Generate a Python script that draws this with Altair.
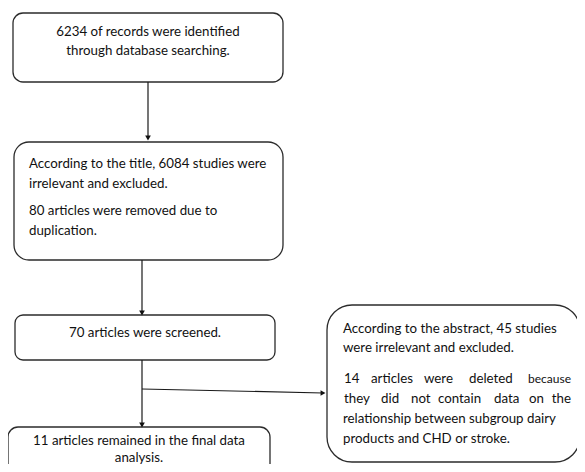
import altair as alt
import pandas as pd

# ---- box geometry (layout coordinates) ----
box_left = [13, 14, 15, 8, 327]
box_right = [283, 283, 275, 270, 580]
box_top = [13, 142, 315, 427, 305]
box_bottom = [82, 260, 360, 500, 462]
box_radius = [10, 15, 8, 10, 25]

# ---- centered text lines ----
center_lines = ["6234 of records were identified", "through database searching.",
                "70 articles were screened.",
                "11 articles remained in the final data", "analysis."]
center_x = [148, 148, 145, 139, 139]
center_y = [32, 51, 333, 441, 458]

# ---- left aligned text lines ----
left_lines = ["According to the title, 6084 studies were", "irrelevant and excluded.",
              "80 articles were removed due to", "duplication.",
              "According to the abstract, 45 studies", "were irrelevant and excluded.",
              "relationship between subgroup dairy", "products and CHD or stroke."]
left_x = [29, 29, 29, 29, 343, 343, 343, 343]
left_y = [164, 184, 211, 231, 329, 348, 419, 439]

# ---- justified lines (word by word) ----
words = ["14", "articles", "were", "deleted",
         "they", "did", "not", "contain", "data", "on"]
word_x = [344, 371, 424, 469, 344, 381, 411, 438, 494, 529]
word_y = [379, 379, 379, 379, 399, 399, 399, 399, 399, 399]
end_words = ["because", "the"]
end_x = [571, 571]
end_y = [379, 399]
end_size = [12, 13.3]

# ---- connectors ----
vline_x = [148, 142, 142]
vline_y1 = [82, 260, 360]
vline_y2 = [138, 313, 425]
branch_x1, branch_y1 = [142], [389]
branch_x2, branch_y2 = [323], [393]

FONT = "Lato"
FS = 13.3

xs = alt.Scale(domain=[8, 577])
ys = alt.Scale(domain=[8, 464], reverse=True)


def X(f):
    return alt.X(f, type="quantitative", scale=xs, axis=None)


def Y(f):
    return alt.Y(f, type="quantitative", scale=ys, axis=None)


layers = []
for i in range(len(box_left)):
    d = pd.DataFrame({"x1": [box_left[i]], "x2": [box_right[i]],
                      "y1": [box_top[i]], "y2": [box_bottom[i]]})
    layers.append(
        alt.Chart(d).mark_rect(fill="white", stroke="#2b2b2b", strokeWidth=1.3,
                               cornerRadius=box_radius[i], clip=True)
        .encode(x=X("x1"), x2="x2", y=Y("y1"), y2="y2")
    )

vdf = pd.DataFrame({"x": vline_x, "y1": vline_y1, "y2": vline_y2})
layers.append(alt.Chart(vdf).mark_rule(color="#1a1a1a", strokeWidth=1.2)
              .encode(x=X("x"), y=Y("y1"), y2="y2"))
layers.append(alt.Chart(vdf).mark_point(shape="triangle-down", filled=True, color="#111",
                                        size=32, opacity=1)
              .encode(x=X("x"), y=Y("y2")))

bdf = pd.DataFrame({"x1": branch_x1, "y1": branch_y1, "x2": branch_x2, "y2": branch_y2})
layers.append(alt.Chart(bdf).mark_rule(color="#1a1a1a", strokeWidth=1.2)
              .encode(x=X("x1"), x2="x2", y=Y("y1"), y2="y2"))
layers.append(alt.Chart(bdf).mark_point(shape="triangle-right", filled=True, color="#111",
                                        size=32, opacity=1)
              .encode(x=X("x2"), y=Y("y2")))

cdf = pd.DataFrame({"t": center_lines, "x": center_x, "y": center_y})
layers.append(alt.Chart(cdf).mark_text(font=FONT, fontSize=FS, align="center",
                                       baseline="middle", color="#111")
              .encode(x=X("x"), y=Y("y"), text="t:N"))

ldf = pd.DataFrame({"t": left_lines, "x": left_x, "y": left_y})
layers.append(alt.Chart(ldf).mark_text(font=FONT, fontSize=FS, align="left",
                                       baseline="middle", color="#111")
              .encode(x=X("x"), y=Y("y"), text="t:N"))

wdf = pd.DataFrame({"t": words, "x": word_x, "y": word_y})
layers.append(alt.Chart(wdf).mark_text(font=FONT, fontSize=FS, align="left",
                                       baseline="middle", color="#111")
              .encode(x=X("x"), y=Y("y"), text="t:N"))

edf = pd.DataFrame({"t": end_words, "x": end_x, "y": end_y, "s": end_size})
layers.append(alt.Chart(edf).mark_text(font=FONT, align="right",
                                       baseline="middle", color="#111")
              .encode(x=X("x"), y=Y("y"), text="t:N",
                      size=alt.Size("s:Q", scale=None, legend=None)))

chart = alt.layer(*layers).properties(
    width=569, height=456, padding=0, autosize=alt.AutoSizeParams(type="none"),
    background="white"
).configure_view(stroke=None)

chart.save("out.html", embed_options={"renderer": "svg", "actions": False})
